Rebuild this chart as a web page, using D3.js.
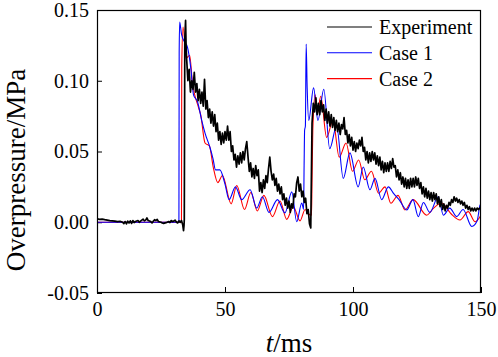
<!DOCTYPE html>
<html>
<head>
<meta charset="utf-8">
<script src="https://cdn.jsdelivr.net/npm/d3@7"></script>
<style>
  html, body { margin: 0; padding: 0; background: #fff; }
  svg { display: block; }
  text { font-family: "Liberation Serif", "Times New Roman", serif; fill: #000; }
</style>
</head>
<body>
<svg id="chart" width="498" height="357"></svg>
<script>
// ---------------- data ----------------
const xTicks = [0, 50, 100, 150];
const yTicks = [-0.05, 0, 0.05, 0.10, 0.15];
const seriesNames = ["Experiment", "Case 1", "Case 2"];
const seriesColors = ["#000000", "#0000ff", "#ff0000"];

// Experiment: [time (ms), overpressure (MPa)]
const experiment = [
 [0,0.0025],[1,0.002],[2,0.0022],[3,0.0018],[4,0.0015],[5,0.0012],[6,0.001],[7,0.0008],[8,0.0005],[9,0.0007],
 [10,0.0],[10.5,-0.001],[11,0.0005],[11.5,-0.0012],[12,0.0008],[12.5,-0.0005],[13,0.001],[13.5,-0.0008],[14,0.0012],[14.5,-0.0002],
 [15,0.0005],[16,0.0012],[16.5,0.0],[17,0.0008],[18,0.0022],[18.5,0.001],[19,0.0015],[19.5,0.003],[20,0.0012],[21,0.0005],
 [21.5,-0.0005],[22,0.0008],[22.5,0.0018],[23,0.0012],[23.5,0.002],[24,0.0005],[25,0.0],[25.5,-0.0005],[26,-0.0008],[27,-0.0003],
 [28,0.0005],[28.5,-0.0002],[29,0.0012],[29.5,0.0005],[30,0.0008],[30.5,0.0015],[31,0.0002],[31.5,-0.0005],[32,0.001],[32.5,0.0],
 [33,0.0012],[33.5,-0.002],[33.8,-0.006],[34.0,-0.002],[34.1,0.002],[34.3,0.13],[34.6,0.1426],[34.8,0.125],
 [35.0,0.116],[35.5,0.100],[36.0,0.108],[36.5,0.092],[37.0,0.100],[37.5,0.094],[38.0,0.106],[38.5,0.092],[39.0,0.098],[39.5,0.086],
 [40.0,0.094],[40.5,0.084],[41.0,0.092],[41.5,0.082],[42.0,0.101],[42.5,0.080],[43.0,0.086],[43.5,0.074],[44.0,0.080],[44.5,0.070],
 [45.0,0.078],[45.5,0.068],[46.0,0.076],[46.5,0.064],[47.0,0.070],[47.5,0.058],[48.0,0.064],[48.5,0.055],[49.0,0.063],[49.5,0.056],
 [50.0,0.064],[50.5,0.058],[51.0,0.068],[51.5,0.058],[52.0,0.064],[52.5,0.050],[53.0,0.054],[53.5,0.044],[54.0,0.048],[54.5,0.039],
 [55.0,0.047],[55.5,0.041],[56.0,0.049],[56.5,0.042],[57.0,0.050],[57.5,0.044],[58.0,0.052],[58.5,0.057],[59.0,0.046],[59.5,0.036],
 [60.0,0.042],[60.5,0.032],[61.0,0.038],[61.5,0.031],[62.0,0.040],[62.5,0.033],[63.0,0.037],[63.5,0.022],[64.0,0.028],[64.5,0.021],
 [65.0,0.030],[65.5,0.024],[66.0,0.033],[66.5,0.028],[67.0,0.038],[67.5,0.046],[68.0,0.036],[68.5,0.030],[69.0,0.034],[69.5,0.026],
 [70.0,0.031],[70.5,0.022],[71.0,0.027],[71.5,0.020],[72.0,0.025],[72.5,0.016],[73.0,0.020],[73.5,0.012],[74.0,0.017],[74.5,0.010],
 [75.0,0.015],[75.5,0.007],[76.0,0.013],[76.5,0.010],[77.0,0.020],[77.5,0.018],[78.0,0.028],[78.5,0.032],[79.0,0.022],[79.5,0.027],
 [80.0,0.018],[80.5,0.022],[81.0,0.014],[81.5,0.017],[82.0,0.006],[82.5,0.009],[83.0,-0.001],[83.5,-0.004],
 [84.0,0.070],[84.5,0.084],[85.0,0.078],[85.5,0.088],[86.0,0.076],[86.5,0.084],[87.0,0.076],[87.5,0.086],[88.0,0.078],[88.5,0.083],
 [89.0,0.072],[89.5,0.080],[90.0,0.070],[90.5,0.078],[91.0,0.068],[91.5,0.076],[92.0,0.067],[92.5,0.074],[93.0,0.065],[93.5,0.072],
 [94.0,0.064],[94.5,0.070],[95.0,0.062],[95.5,0.069],[96.0,0.066],[96.5,0.074],[97.0,0.062],[97.5,0.065],[98.0,0.056],[98.5,0.062],
 [99.0,0.054],[99.5,0.060],[100.0,0.051],[100.5,0.057],[101.0,0.050],[101.5,0.056],[102.0,0.052],[102.5,0.058],[103.0,0.054],[103.5,0.060],
 [104.0,0.050],[104.5,0.053],[105.0,0.044],[105.5,0.050],[106.0,0.042],[106.5,0.049],[107.0,0.043],[107.5,0.050],[108.0,0.044],[108.5,0.049],
 [109.0,0.041],[109.5,0.047],[110.0,0.040],[110.5,0.046],[111.0,0.037],[111.5,0.043],[112.0,0.035],[112.5,0.042],[113.0,0.036],[113.5,0.042],
 [114.0,0.036],[114.5,0.043],[115.0,0.038],[115.5,0.045],[116.0,0.039],[116.5,0.040],[117.0,0.032],[117.5,0.037],[118.0,0.030],[118.5,0.035],
 [119.0,0.027],[119.5,0.032],[120.0,0.025],[120.5,0.031],[121.0,0.024],[121.5,0.030],[122.0,0.024],[122.5,0.031],[123.0,0.025],[123.5,0.031],
 [124.0,0.025],[124.5,0.032],[125.0,0.026],[125.5,0.031],[126.0,0.024],[126.5,0.028],[127.0,0.020],[127.5,0.025],[128.0,0.018],[128.5,0.024],
 [129.0,0.017],[129.5,0.022],[130.0,0.016],[130.5,0.021],[131.0,0.015],[131.5,0.021],[132.0,0.016],[132.5,0.020],[133.0,0.013],[133.5,0.018],
 [134.0,0.011],[134.5,0.016],[135.0,0.009],[135.5,0.013],[136.0,0.008],[136.5,0.012],[137.0,0.010],[137.5,0.014],[138.0,0.012],[138.5,0.016],
 [139.0,0.014],[139.5,0.018],[140.0,0.015],[140.5,0.017],[141.0,0.014],[141.5,0.016],[142.0,0.013],[142.5,0.015],[143.0,0.012],[143.5,0.014],
 [144.0,0.010],[144.5,0.012],[145.0,0.009],[145.5,0.011],[146.0,0.008],[146.5,0.010],[147.0,0.008],[147.5,0.010],[148.0,0.008],[148.5,0.010],
 [149.0,0.009],[149.5,0.010],[150.0,0.009]
];

// Case 1 (simulation)
const case1 = [
 [0,0],[32.0,0],[32.1,0.12],[32.3,0.1414],[33.0,0.133],[34.3,0.127],[35.3,0.124],[36.7,0.108],[37.7,0.090],[39.3,0.085],
 [40.9,0.072],[42.2,0.063],[44.1,0.053],[45.3,0.045],[46.3,0.037],[48.0,0.037],[50.0,0.027],[51.6,0.016],[54.1,0.025],[56.5,0.016],
 [59.8,0.023],[62.4,0.010],[64.6,0.018],[67.2,0.007],[70.5,0.016],[73.4,0.0066],[76.1,0.0215],[78.0,0.0004],[80.0,0.0136],[80.7,0.009],
 [80.9,0.04],[81.1,0.065],[81.4,0.068],[81.7,0.126],[82.1,0.095],[82.7,0.072],[84.6,0.095],[86.3,0.072],[88.6,0.094],[90.9,0.052],
 [93.6,0.068],[96.2,0.031],[98.8,0.049],[102.0,0.025],[104.0,0.039],[106.6,0.023],[108.6,0.031],[111.2,0.016],[113.8,0.025],[116.0,0.020],
 [118.0,0.016],[121.0,0.0087],[123.4,0.016],[125.5,0.004],[127.5,0.014],[130.0,0.007],[133.3,0.018],[135.3,0.005],[137.8,0.010],[140.5,0.004],
 [143.0,0.009],[146.4,-0.003],[148.5,0.001],[149.6,0.012],[150,0.013]
];

// Case 2 (simulation)
const case2 = [
 [0,0],[33.0,0],[33.1,0.11],[33.6,0.138],[34.9,0.116],[36.2,0.118],[37.2,0.100],[39.5,0.082],[40.5,0.076],[42.2,0.056],
 [43.9,0.054],[45.4,0.039],[47.2,0.028],[49.0,0.033],[52.4,0.013],[54.6,0.026],[57.6,0.009],[60.1,0.021],[62.6,0.008],[65.2,0.019],
 [68.5,0.004],[71.5,0.015],[74.1,0.002],[76.7,0.011],[79.3,0.001],[81.3,0.009],[82.6,0.006],[83.8,0.005],[84.0,0.03],[84.3,0.065],
 [85.2,0.090],[86.1,0.077],[87.4,0.089],[89.7,0.060],[92.2,0.072],[94.6,0.046],[97.3,0.056],[99.8,0.036],[102.2,0.044],[104.6,0.030],
 [107.2,0.036],[110.0,0.0205],[112.5,0.025],[114.8,0.0134],[117.6,0.019],[120.3,0.0087],[123.5,0.016],[128.8,0.005],[131.5,0.010],[134.6,0.0136],
 [138.3,0.006],[141.8,0.0016],[145.0,0.0075],[147.7,0.0004],[150,0.005]
];

// ---------------- chart ----------------
const svg = d3.select("#chart");
const plot = { left: 97, right: 481, top: 10, bottom: 293 };

const x = d3.scaleLinear().domain([0, 150]).range([plot.left, plot.right]);
const y = d3.scaleLinear().domain([-0.05, 0.15]).range([plot.bottom, plot.top]);

svg.append("defs").append("clipPath").attr("id", "clip")
  .append("rect")
  .attr("x", plot.left).attr("y", plot.top)
  .attr("width", plot.right - plot.left).attr("height", plot.bottom - plot.top);

const fmt = d => d3.format(".2f")(d).replace("\u2212", "-");

// axes (ticks inward)
const xAxis = svg.append("g")
  .attr("transform", `translate(0,${plot.bottom})`)
  .call(d3.axisBottom(x).tickValues(xTicks).tickSizeInner(-6).tickSizeOuter(0).tickPadding(9).tickFormat(d3.format("d")));
const yAxis = svg.append("g")
  .attr("transform", `translate(${plot.left},0)`)
  .call(d3.axisLeft(y).tickValues(yTicks).tickSizeInner(-5).tickSizeOuter(0).tickPadding(8).tickFormat(fmt));

[xAxis, yAxis].forEach(g => {
  g.select(".domain").remove();
  g.selectAll(".tick line").attr("stroke", "#000").attr("stroke-width", 1);
  g.selectAll(".tick text").attr("font-size", 20).attr("fill", "#000");
});

// series lines
const lineLinear = d3.line().x(d => x(d[0])).y(d => y(d[1]));
const lineSmooth = d3.line().x(d => x(d[0])).y(d => y(d[1])).curve(d3.curveMonotoneX);

const g = svg.append("g").attr("clip-path", "url(#clip)");
g.append("path").datum(case2).attr("fill", "none").attr("stroke", seriesColors[2]).attr("stroke-width", 1.1).attr("d", lineSmooth);
g.append("path").datum(case1).attr("fill", "none").attr("stroke", seriesColors[1]).attr("stroke-width", 1.1).attr("d", lineSmooth);
g.append("path").datum(experiment).attr("fill", "none").attr("stroke", seriesColors[0]).attr("stroke-width", 1.7).attr("stroke-linejoin", "round").attr("d", lineLinear);

// frame
svg.append("rect")
  .attr("x", plot.left + 0.5).attr("y", plot.top + 0.5)
  .attr("width", plot.right - plot.left - 1).attr("height", plot.bottom - plot.top - 1)
  .attr("fill", "none").attr("stroke", "#000").attr("stroke-width", 1.2);

// legend
const legend = svg.append("g");
seriesNames.forEach((name, i) => {
  const ly = 27 + i * 25.8;
  legend.append("line")
    .attr("x1", 327).attr("x2", 372).attr("y1", ly).attr("y2", ly)
    .attr("stroke", seriesColors[i]).attr("stroke-width", 1.1);
  legend.append("text")
    .attr("x", 379).attr("y", ly).attr("dy", "0.35em")
    .attr("font-size", 20).text(name);
});

// axis titles
const xt = svg.append("text")
  .attr("x", (plot.left + plot.right) / 2).attr("y", 352)
  .attr("text-anchor", "middle").attr("font-size", 27);
xt.append("tspan").attr("font-style", "italic").text("t");
xt.append("tspan").text("/ms");

svg.append("text")
  .attr("transform", `translate(25,170) rotate(-90)`)
  .attr("text-anchor", "middle").attr("font-size", 27)
  .text("Overpressure/MPa");
</script>
</body>
</html>
